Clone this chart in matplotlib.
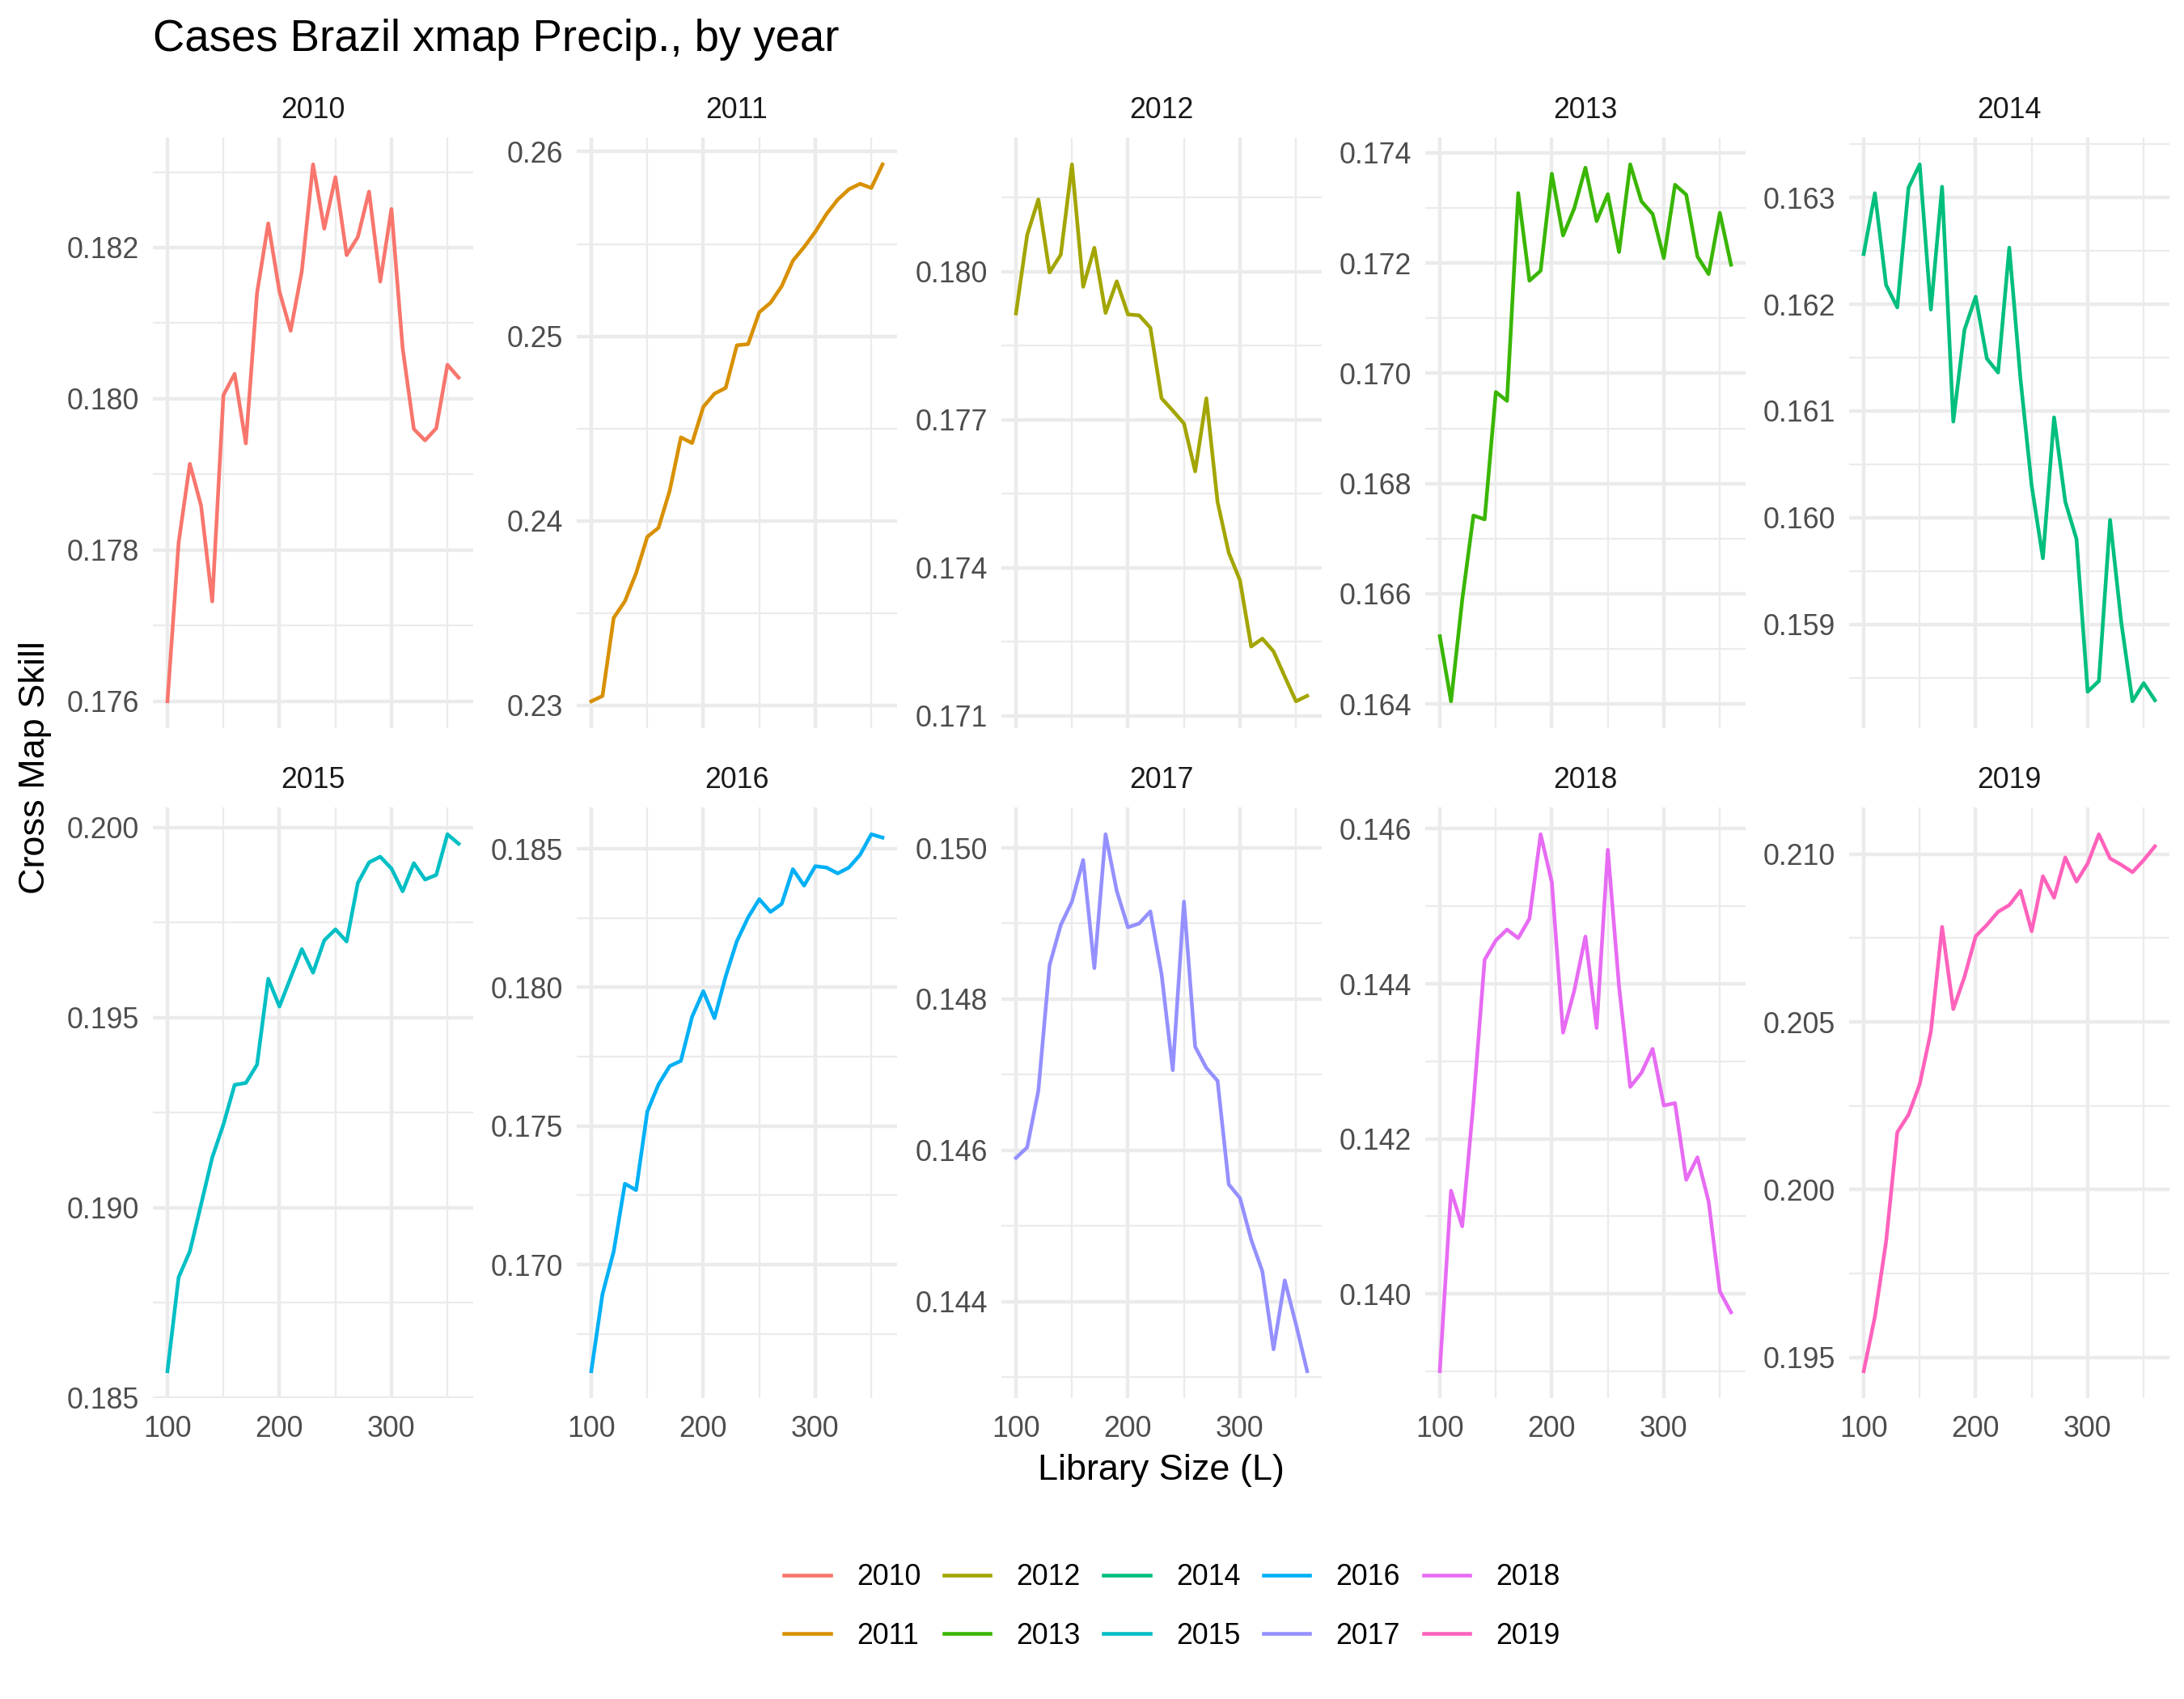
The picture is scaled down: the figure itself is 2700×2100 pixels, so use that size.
import numpy as np
import matplotlib
matplotlib.use("Agg")
import matplotlib.pyplot as plt
from matplotlib.ticker import MultipleLocator, FuncFormatter
from matplotlib.lines import Line2D

plt.rcParams["font.family"] = ["Liberation Sans", "DejaVu Sans"]

lib_size = list(range(100, 361, 10))
years = ["2010", "2011", "2012", "2013", "2014", "2015", "2016", "2017", "2018", "2019"]

rho_2010 = [0.17600, 0.17810, 0.17914, 0.17859, 0.17732, 0.18005, 0.18033, 0.17941, 0.18140,
            0.18232, 0.18142, 0.18090, 0.18169, 0.18310, 0.18225, 0.18293, 0.18190, 0.18214,
            0.18274, 0.18155, 0.18251, 0.18067, 0.17960, 0.17945, 0.17961, 0.18045, 0.18028]
rho_2011 = [0.23022, 0.23051, 0.23474, 0.23564, 0.23716, 0.23913, 0.23962, 0.24163, 0.24452,
            0.24421, 0.24617, 0.24689, 0.24720, 0.24951, 0.24957, 0.25130, 0.25181, 0.25271,
            0.25409, 0.25483, 0.25566, 0.25662, 0.25740, 0.25796, 0.25826, 0.25803, 0.25931]
rho_2012 = [0.17915, 0.18074, 0.18146, 0.17998, 0.18034, 0.18217, 0.17969, 0.18048, 0.17916,
            0.17980, 0.17913, 0.17911, 0.17886, 0.17743, 0.17718, 0.17692, 0.17595, 0.17743,
            0.17533, 0.17430, 0.17374, 0.17240, 0.17256, 0.17230, 0.17179, 0.17129, 0.17140]
rho_2013 = [0.16523, 0.16405, 0.16589, 0.16742, 0.16735, 0.16966, 0.16950, 0.17327, 0.17168,
            0.17186, 0.17362, 0.17250, 0.17299, 0.17373, 0.17276, 0.17325, 0.17220, 0.17379,
            0.17312, 0.17289, 0.17209, 0.17342, 0.17324, 0.17212, 0.17180, 0.17291, 0.17197]
rho_2014 = [0.16247, 0.16304, 0.16218, 0.16197, 0.16309, 0.16331, 0.16195, 0.16310, 0.16090,
            0.16176, 0.16207, 0.16149, 0.16136, 0.16253, 0.16130, 0.16030, 0.15962, 0.16094,
            0.16015, 0.15980, 0.15837, 0.15847, 0.15998, 0.15902, 0.15828, 0.15845, 0.15829]
rho_2015 = [0.18570, 0.18817, 0.18885, 0.19008, 0.19132, 0.19219, 0.19323, 0.19328, 0.19376,
            0.19602, 0.19529, 0.19605, 0.19680, 0.19618, 0.19703, 0.19732, 0.19700, 0.19854,
            0.19908, 0.19923, 0.19892, 0.19832, 0.19906, 0.19863, 0.19875, 0.19982, 0.19957]
rho_2016 = [0.16616, 0.16894, 0.17048, 0.17292, 0.17269, 0.17552, 0.17650, 0.17716, 0.17735,
            0.17894, 0.17986, 0.17889, 0.18040, 0.18167, 0.18252, 0.18318, 0.18272, 0.18301,
            0.18426, 0.18367, 0.18437, 0.18432, 0.18411, 0.18432, 0.18478, 0.18552, 0.18540]
rho_2017 = [0.14590, 0.14604, 0.14679, 0.14845, 0.14898, 0.14929, 0.14984, 0.14841, 0.15018,
            0.14943, 0.14895, 0.14900, 0.14916, 0.14833, 0.14706, 0.14929, 0.14737, 0.14709,
            0.14692, 0.14555, 0.14537, 0.14482, 0.14440, 0.14337, 0.14428, 0.14370, 0.14308]
rho_2018 = [0.13900, 0.14133, 0.14087, 0.14246, 0.14431, 0.14456, 0.14470, 0.14459, 0.14484,
            0.14593, 0.14531, 0.14337, 0.14391, 0.14461, 0.14343, 0.14573, 0.14397, 0.14267,
            0.14285, 0.14316, 0.14243, 0.14246, 0.14147, 0.14176, 0.14119, 0.14003, 0.13976]
rho_2019 = [0.19459, 0.19621, 0.19845, 0.20171, 0.20223, 0.20314, 0.20471, 0.20783, 0.20538,
            0.20634, 0.20755, 0.20789, 0.20828, 0.20848, 0.20891, 0.20770, 0.20934, 0.20870,
            0.20990, 0.20918, 0.20972, 0.21059, 0.20987, 0.20968, 0.20946, 0.20982, 0.21023]

series = [rho_2010, rho_2011, rho_2012, rho_2013, rho_2014,
          rho_2015, rho_2016, rho_2017, rho_2018, rho_2019]

# ggplot hue palette, 10 levels
COLORS = ["#F8766D", "#D89000", "#A3A500", "#39B600", "#00BF7D",
          "#00BFC4", "#00B0F6", "#9590FF", "#E76BF3", "#FF62BC"]
# major break spacing per facet (free y scales)
Y_STEP = [0.002, 0.01, 0.003, 0.002, 0.001, 0.005, 0.005, 0.002, 0.002, 0.005]

GRID = "#EBEBEB"
W, H = 2700, 2100
COL_LEFT = [189, 713, 1238, 1762, 2286]
PANEL_W = 396
ROW_TOP = [170, 998]
PANEL_H = 730

fig = plt.figure(figsize=(9, 7), dpi=300)

for i, (yr, vals) in enumerate(zip(years, series)):
    r, c = divmod(i, 5)
    left = COL_LEFT[c] / W
    bottom = 1 - (ROW_TOP[r] + PANEL_H) / H
    ax = fig.add_axes([left, bottom, PANEL_W / W, PANEL_H / H])
    ax.plot(lib_size, vals, color=COLORS[i], lw=1.1, solid_joinstyle="round", zorder=3)
    ax.margins(x=0.05, y=0.05)

    step = Y_STEP[i]
    dec = int(max(0, -np.floor(np.log10(step) + 1e-9)))
    ax.yaxis.set_major_locator(MultipleLocator(step))
    ax.yaxis.set_minor_locator(MultipleLocator(step / 2))
    ax.yaxis.set_major_formatter(FuncFormatter(lambda v, p, d=dec: f"{v:.{d}f}"))
    ax.xaxis.set_major_locator(MultipleLocator(100))
    ax.xaxis.set_minor_locator(MultipleLocator(50))

    ax.grid(which="major", color=GRID, lw=1.07, zorder=0)
    ax.grid(which="minor", color=GRID, lw=0.53, zorder=0)
    ax.set_axisbelow(True)
    for s in ax.spines.values():
        s.set_visible(False)
    ax.tick_params(which="both", length=0)
    ax.tick_params(axis="y", labelsize=8.6, labelcolor="#4D4D4D", pad=4)
    ax.tick_params(axis="x", labelsize=8.6, labelcolor="#4D4D4D", pad=5)
    if r == 0:
        ax.tick_params(axis="x", labelbottom=False)

    ax.text(0.5, 1 + 34 / PANEL_H, yr, transform=ax.transAxes, ha="center", va="center",
            fontsize=8.6, color="#1A1A1A")

fig.text(189 / W, 1 - 49 / H, "Cases Brazil xmap Precip., by year", ha="left", va="center",
         fontsize=13.1, color="black")
fig.text(1435 / W, 1 - 1817 / H, "Library Size (L)", ha="center", va="center",
         fontsize=10.8, color="black")
fig.text(44 / W, 1 - 949 / H, "Cross Map Skill", ha="center", va="center", rotation=90,
         fontsize=10.8, color="black")

handles = [Line2D([], [], color=col, lw=1.1) for col in COLORS]
fig.legend(handles, years, loc="center", bbox_to_anchor=(1449 / W, 1 - 1986 / H), ncol=5,
           frameon=False, fontsize=8.6, handlelength=1.6, handletextpad=0.9,
           columnspacing=0.8, labelspacing=1.05)

fig.savefig("out.png", dpi=300)
